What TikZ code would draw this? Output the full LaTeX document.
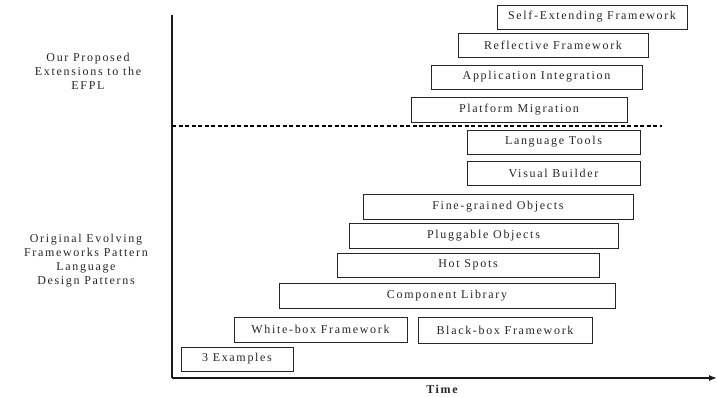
\documentclass[tikz,border=0pt]{standalone}
\usepackage{fontspec}
\setmainfont{Liberation Serif}[LetterSpace=14]
\usetikzlibrary{arrows.meta}
\tikzset{
  tb/.style={draw=black!85, line width=0.8pt, inner sep=0pt, font=\fontsize{12}{14}\selectfont, text=black!85},
  sidelabel/.style={align=center, inner sep=0pt, font=\fontsize{12}{14}\selectfont, text=black!85},
  axis/.style={line width=1.4pt, black!90},
  divider/.style={line width=1.2pt, dashed, dash pattern=on 4pt off 2.5pt, black}
}
\begin{document}
\begin{tikzpicture}[x=1pt,y=-1pt]
\useasboundingbox (0,0) rectangle (717,396);
% axes
\coordinate (ytop) at (172,15);
\coordinate (orig) at (172,378);
\coordinate (xend) at (717,378);
\coordinate (dA) at (172,126);
\coordinate (dB) at (662,126);
\draw[axis] (ytop) -- (orig);
\draw[axis, -{Latex[length=8pt,width=6pt]}] (orig) -- (xend);
\draw[divider] (dA) -- (dB);
% boxes
\node[tb, minimum width=190pt, minimum height=24pt] (sef) at (592,17) {Self-Extending Framework};
\node[tb, minimum width=190pt, minimum height=24pt] (rf) at (553,45) {Reflective Framework};
\node[tb, minimum width=211pt, minimum height=24pt] (ai) at (536.5,77) {Application Integration};
\node[tb, minimum width=216pt, minimum height=25pt] (pm) at (519,109.5) {Platform Migration};
\node[tb, minimum width=173pt, minimum height=24pt] (lt) at (553.5,142) {Language Tools};
\node[tb, minimum width=173pt, minimum height=24pt] (vb) at (553.5,173) {Visual Builder};
\node[tb, minimum width=270pt, minimum height=25pt] (fgo) at (498,206.5) {Fine-grained Objects};
\node[tb, minimum width=269pt, minimum height=25pt] (po) at (483.5,235.5) {Pluggable Objects};
\node[tb, minimum width=262pt, minimum height=24pt] (hs) at (468,265) {Hot Spots};
\node[tb, minimum width=336pt, minimum height=25pt] (cl) at (447,295.5) {Component Library};
\node[tb, minimum width=173pt, minimum height=25pt] (wb) at (320.5,329.5) {White-box Framework};
\node[tb, minimum width=174pt, minimum height=26pt] (bb) at (505,330) {Black-box Framework};
\node[tb, minimum width=112pt, minimum height=24pt] (ex) at (237,359) {3 Examples};
% side labels
\node[sidelabel] (ours) at (88,71) {Our Proposed\\Extensions to the\\EFPL};
\node[sidelabel] (orig label) at (86,260.5) {Original Evolving\\Frameworks Pattern\\Language\\Design Patterns};
\node[sidelabel, font=\fontsize{12}{14}\selectfont\bfseries] (time) at (442,389) {Time};
\end{tikzpicture}
\end{document}
